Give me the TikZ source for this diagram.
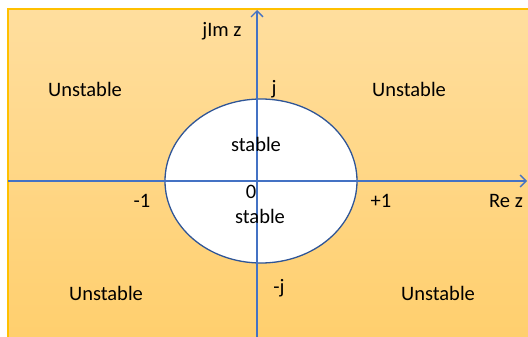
\documentclass[tikz,border=0pt]{standalone}
\usepackage{fontspec}
\setmainfont{Carlito}
\usetikzlibrary{arrows.meta,shapes.geometric}
\definecolor{bgtop}{RGB}{255,222,158}
\definecolor{bgbot}{RGB}{255,207,110}
\definecolor{edgeor}{RGB}{255,192,0}
\definecolor{axisblue}{RGB}{68,114,196}
\definecolor{ringblue}{RGB}{47,85,151}
\tikzset{
  lbl/.style={font=\fontsize{20.5}{24}\selectfont, text=black, inner sep=0pt},
  axisline/.style={draw=axisblue, line width=1.3pt, -{Straight Barb[length=6pt,width=12pt,line width=1.3pt]}},
}
\begin{document}
\begin{tikzpicture}[x=1pt,y=-1pt]
\useasboundingbox (0,0) rectangle (528,337);
\shade[top color=bgtop, bottom color=bgbot] (8,9) rectangle (528,337);
\draw[edgeor, line width=1.5pt] (8,337) -- (8,9) -- (528,9);
\coordinate (xl) at (8,181);
\coordinate (xr) at (527,181);
\coordinate (yb) at (257,337);
\coordinate (yt) at (257,10);
\node[ellipse, draw=ringblue, fill=white, line width=1.3pt, inner sep=0pt, minimum width=192pt, minimum height=164pt] (circ) at (261,181) {};
\draw[axisline] (xl) -- (xr);
\draw[axisline] (yb) -- (yt);
\node[lbl] (im) at (222,31) {jIm z};
\node[lbl] (re) at (506,201) {Re z};
\node[lbl] (u1) at (85,89) {Unstable};
\node[lbl] (u2) at (409,89) {Unstable};
\node[lbl] (u3) at (106,293) {Unstable};
\node[lbl] (u4) at (438,293) {Unstable};
\node[lbl] (j) at (274,89) {j};
\node[lbl] (mj) at (279,288) {-j};
\node[lbl] (s1) at (256,144) {stable};
\node[lbl] (s2) at (260,216) {stable};
\node[lbl] (zero) at (251,192) {0};
\node[lbl] (m1) at (142,201) {-1};
\node[lbl] (p1) at (381,201) {+1};
\end{tikzpicture}
\end{document}
